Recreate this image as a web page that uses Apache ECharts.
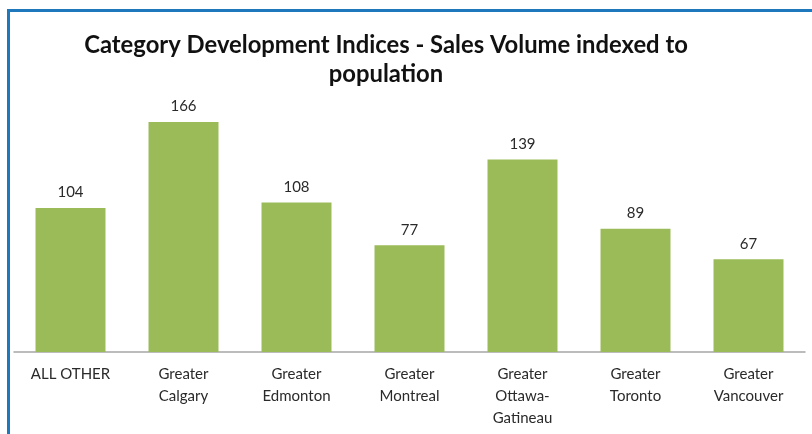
<!DOCTYPE html>
<html><head><meta charset="utf-8">
<script src="https://cdn.jsdelivr.net/npm/echarts@6/dist/echarts.min.js"></script>
<style>html,body{margin:0;padding:0;background:#fff;}#c{width:812px;height:434px;}
#frame{position:absolute;left:7px;top:9px;width:820px;height:440px;border-top:3px solid #1F77BC;border-left:3px solid #1F77BC;pointer-events:none;}</style>
</head><body><div id="c"></div><div id="frame"></div>
<script>
const categories = ['ALL OTHER','Greater\nCalgary','Greater\nEdmonton','Greater\nMontreal','Greater\nOttawa-\nGatineau','Greater\nToronto','Greater\nVancouver'];
const values = [104,166,108,77,139,89,67];
const chart = echarts.init(document.getElementById('c'));
const font = 'Lato, "Open Sans", sans-serif';
chart.setOption({
  animation:false,
  title:{text:'Category Development Indices - Sales Volume indexed to\npopulation',left:381,textAlign:'center',top:26,
    textStyle:{fontFamily:font,fontSize:23.8,fontWeight:'bold',color:'#111',lineHeight:29}},
  grid:{left:14,right:7,top:75,bottom:82},
  xAxis:{type:'category',data:categories,
    axisLine:{lineStyle:{color:'#A6A6A6',width:1.5}},axisTick:{show:false},
    axisLabel:{interval:0,color:'#2a2a2a',fontFamily:font,fontSize:15,lineHeight:22,margin:11}},
  yAxis:{type:'value',min:0,max:200,show:false,splitLine:{show:false}},
  series:[{type:'bar',data:values,barWidth:70,itemStyle:{color:'#9BBB59'},
    label:{show:true,position:'top',distance:8,color:'#2a2a2a',fontFamily:font,fontSize:15}}]
});
</script></body></html>
